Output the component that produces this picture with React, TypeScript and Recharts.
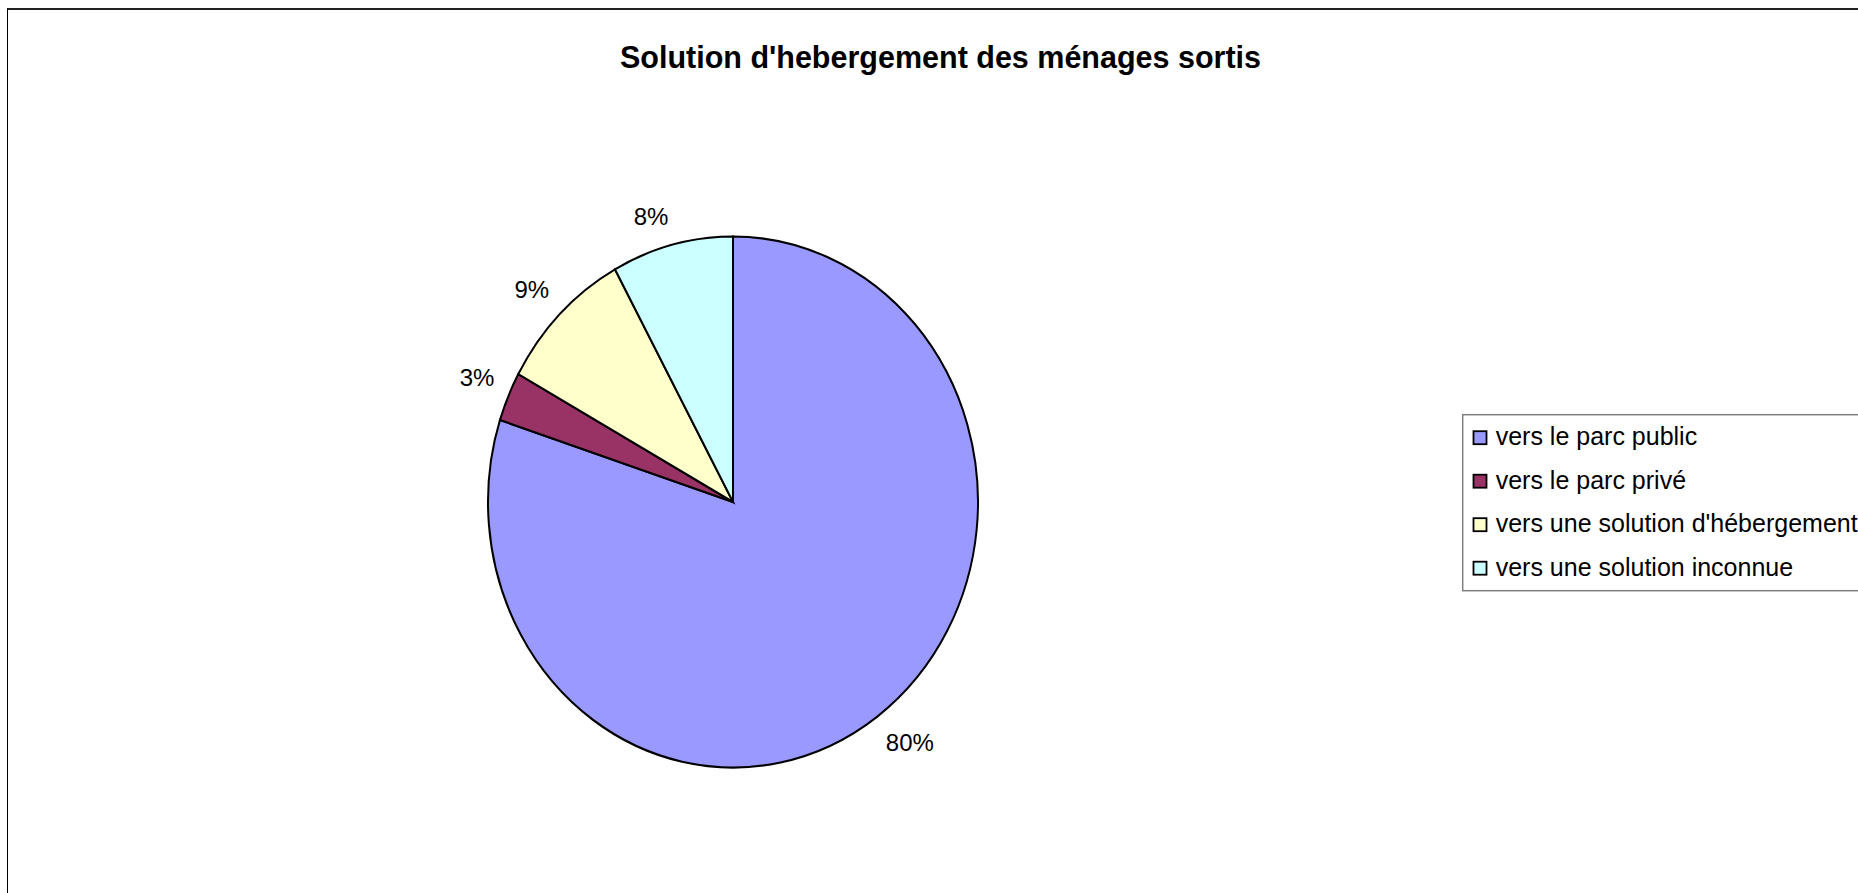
import React from 'react';
import { PieChart, Pie, Cell } from 'recharts';

const categories = [
  'vers le parc public',
  'vers le parc privé',
  "vers une solution d'hébergement",
  'vers une solution inconnue',
];
const shares = [80, 3, 9, 8];
const colors = ['#9999FF', '#993366', '#FFFFCC', '#CCFFFF'];

const data = categories.map((name, i) => ({ name, value: shares[i] }));

const FONT = '"Liberation Sans", Arial, sans-serif';
// the original pie is a bit taller than wide
const Y_STRETCH = 1.0837;

// label box sits with its inner corner on a point just outside the slice
function renderLabel(props: any) {
  const { cx, cy, midAngle, outerRadius, percent } = props;
  const text = `${Math.round(percent * 100)}%`;
  const rad = (-midAngle * Math.PI) / 180;
  const hw = (0.556 * (text.length - 1) + 0.889) * 12;
  const hh = 12;
  const r = outerRadius + 15;
  const cos = Math.cos(rad);
  const sin = Math.sin(rad);
  const x = cx + r * cos + Math.sign(cos) * hw;
  const y = cy + r * sin + Math.sign(sin) * hh;
  return (
    <text
      transform={`translate(${x},${y}) scale(1,${1 / Y_STRETCH})`}
      textAnchor="middle"
      dominantBaseline="central"
      fontSize={24}
      fontFamily={FONT}
      fill="#000"
    >
      {text}
    </text>
  );
}

export default function App() {
  return (
    <div
      style={{
        position: 'fixed',
        left: 0,
        top: 0,
        width: 1858,
        height: 893,
        overflow: 'hidden',
        background: '#fff',
      }}
    >
      <div
        style={{
          position: 'absolute',
          left: 7,
          top: 8,
          width: 1950,
          height: 1000,
          borderLeft: '1.5px solid #000',
          borderTop: '2px solid #222',
        }}
      />
      <div
        style={{
          position: 'absolute',
          left: 382.5,
          top: 151.5,
          width: 700,
          height: 700,
          transform: `scaleY(${Y_STRETCH})`,
          transformOrigin: '350px 350px',
        }}
      >
        <PieChart width={700} height={700}>
          <Pie
            data={data}
            dataKey="value"
            nameKey="name"
            cx="50%"
            cy="50%"
            outerRadius={245}
            startAngle={90}
            endAngle={-270}
            stroke="#000"
            strokeWidth={2}
            label={renderLabel}
            labelLine={false}
            isAnimationActive={false}
          >
            {data.map((d, i) => (
              <Cell key={d.name} fill={colors[i]} />
            ))}
          </Pie>
        </PieChart>
      </div>
      <svg
        width={1858}
        height={893}
        style={{ position: 'absolute', left: 0, top: 0, pointerEvents: 'none' }}
      >
        <text
          x={940.5}
          y={68}
          textAnchor="middle"
          fontSize={30.5}
          fontWeight="bold"
          fontFamily={FONT}
          fill="#000"
        >
          Solution d'hebergement des ménages sortis
        </text>
        <rect x={1462.7} y={414.7} width={500} height={176} fill="#fff" stroke="#7f7f7f" strokeWidth={1.5} />
        {categories.map((name, i) => {
          const base = 445 + i * 43.5;
          return (
            <g key={name}>
              <rect x={1473.5} y={base - 13.8} width={13} height={13} fill={colors[i]} stroke="#000" strokeWidth={1.8} />
              <text x={1495.7} y={base} fontSize={25} fontFamily={FONT} fill="#000">
                {name}
              </text>
            </g>
          );
        })}
      </svg>
    </div>
  );
}
